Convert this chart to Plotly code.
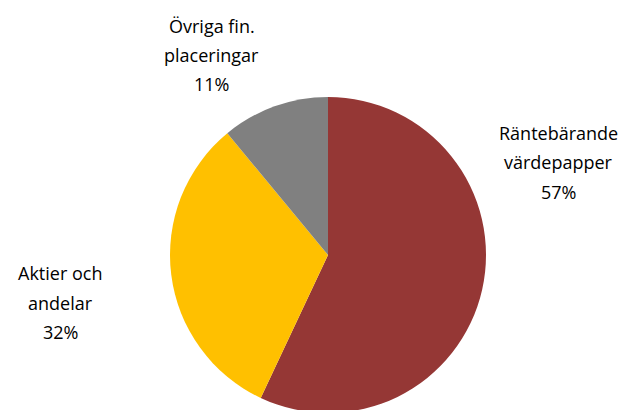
import plotly.graph_objects as go

categories = ["Räntebärande värdepapper", "Aktier och andelar", "Övriga fin. placeringar"]
values = [57, 32, 11]
colors = ["#953735", "#FFC000", "#808080"]
label_lines = [["Räntebärande", "värdepapper"], ["Aktier och", "andelar"], ["Övriga fin.", "placeringar"]]

W, H = 627, 410
OFF = 8  # page body margin offset
fig = go.Figure(go.Pie(
    labels=categories, values=values, sort=False, direction="clockwise", rotation=0,
    marker=dict(colors=colors, line=dict(width=0)),
    textinfo="none", hoverinfo="label+percent",
    domain=dict(x=[(170 - OFF) / W, (486 - OFF) / W], y=[1 - (413 - OFF) / H, 1 - (97 - OFF) / H]),
    showlegend=False,
))

# label anchor centres (pixels) per category
label_pos = [(558, [133, 162, 192]), (60, [273, 303, 332]), (212, [26, 55, 84])]
total = sum(values)
for lines, v, (cx, ys) in zip(label_lines, values, label_pos):
    texts = lines + [f"{round(100 * v / total)}%"]
    for t, y in zip(texts, ys):
        fig.add_annotation(text=t, x=(cx - OFF) / W, y=1 - (y - OFF) / H, xref="paper", yref="paper",
                           xanchor="center", yanchor="middle", showarrow=False,
                           font=dict(family="Open Sans", size=18, color="#000000"))

fig.update_layout(width=W, height=H, margin=dict(l=0, r=0, t=0, b=0),
                  paper_bgcolor="white", plot_bgcolor="white")
fig.write_html("out.html")
